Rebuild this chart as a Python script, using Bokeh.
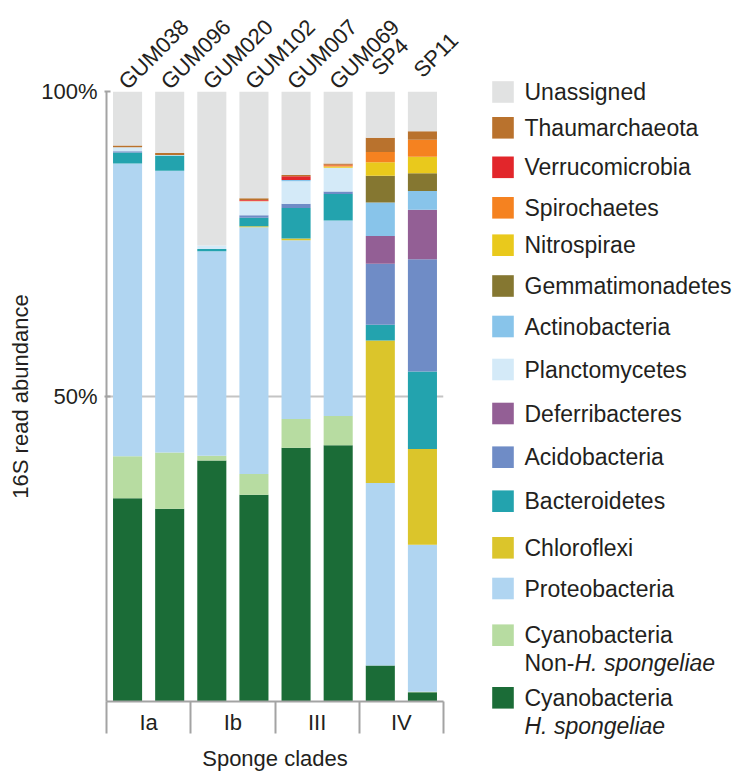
import math
from bokeh.plotting import figure
from bokeh.models import ColumnDataSource, Range1d, FixedTicker
from bokeh.embed import file_html
from bokeh.resources import INLINE
from bokeh.core.properties import value

# ---------------- data ----------------
samples = ["GUM038", "GUM096", "GUM020", "GUM102", "GUM007", "GUM069", "SP4", "SP11"]
clades = ["Ia", "Ib", "III", "IV"]
samples_per_clade = 2

cyano_h          = [33.3, 31.6, 39.5, 33.9, 41.6, 42.0, 5.9, 1.5]
cyano_non_h      = [6.9, 9.2, 0.8, 3.4, 4.7, 4.8, 0.0, 0.1]
proteobacteria   = [48.0, 46.2, 33.5, 40.45, 29.3, 32.05, 29.9, 24.1]
chloroflexi      = [0.0, 0.0, 0.0, 0.15, 0.3, 0.0, 23.4, 15.7]
bacteroidetes    = [1.8, 2.5, 0.4, 1.4, 5.0, 4.35, 2.55, 12.7]
acidobacteria    = [0.2, 0.0, 0.0, 0.4, 0.7, 0.4, 10.0, 18.4]
deferribacteres  = [0.0, 0.0, 0.0, 0.0, 0.0, 0.0, 4.55, 8.1]
planctomycetes   = [0.65, 0.1, 0.55, 2.3, 3.7, 3.9, 0.0, 0.0]
actinobacteria   = [0.0, 0.0, 0.0, 0.0, 0.2, 0.0, 5.5, 3.1]
gemmatimonadetes = [0.0, 0.0, 0.0, 0.0, 0.0, 0.0, 4.4, 2.9]
nitrospirae      = [0.0, 0.0, 0.0, 0.0, 0.0, 0.2, 2.2, 2.7]
spirochaetes     = [0.0, 0.0, 0.0, 0.1, 0.0, 0.2, 1.7, 2.8]
verrucomicrobia  = [0.0, 0.0, 0.0, 0.1, 0.6, 0.1, 0.0, 0.0]
thaumarchaeota   = [0.3, 0.3, 0.0, 0.3, 0.2, 0.2, 2.3, 1.4]
unassigned       = [8.85, 10.1, 25.25, 17.5, 13.7, 11.8, 7.6, 6.5]

y_ticks = [50, 100]
y_tick_labels = ["50%", "100%"]

# stack order bottom -> top
stack = [
    ("cyano_h", cyano_h, "#1b6c37"),
    ("cyano_non_h", cyano_non_h, "#b7dca1"),
    ("proteobacteria", proteobacteria, "#b0d5f1"),
    ("chloroflexi", chloroflexi, "#dbc52b"),
    ("bacteroidetes", bacteroidetes, "#23a3ae"),
    ("acidobacteria", acidobacteria, "#6f8cc6"),
    ("deferribacteres", deferribacteres, "#935f95"),
    ("planctomycetes", planctomycetes, "#d4eaf8"),
    ("actinobacteria", actinobacteria, "#88c4ea"),
    ("gemmatimonadetes", gemmatimonadetes, "#857731"),
    ("nitrospirae", nitrospirae, "#e9c91c"),
    ("spirochaetes", spirochaetes, "#f58220"),
    ("verrucomicrobia", verrucomicrobia, "#e2262b"),
    ("thaumarchaeota", thaumarchaeota, "#b9722d"),
    ("unassigned", unassigned, "#e1e2e2"),
]

# legend entries top -> bottom: (key, first line, upright prefix of 2nd line, italic part of 2nd line)
legend_entries = [
    ("unassigned", "Unassigned", "", ""),
    ("thaumarchaeota", "Thaumarchaeota", "", ""),
    ("verrucomicrobia", "Verrucomicrobia", "", ""),
    ("spirochaetes", "Spirochaetes", "", ""),
    ("nitrospirae", "Nitrospirae", "", ""),
    ("gemmatimonadetes", "Gemmatimonadetes", "", ""),
    ("actinobacteria", "Actinobacteria", "", ""),
    ("planctomycetes", "Planctomycetes", "", ""),
    ("deferribacteres", "Deferribacteres", "", ""),
    ("acidobacteria", "Acidobacteria", "", ""),
    ("bacteroidetes", "Bacteroidetes", "", ""),
    ("chloroflexi", "Chloroflexi", "", ""),
    ("proteobacteria", "Proteobacteria", "", ""),
    ("cyano_non_h", "Cyanobacteria", "Non-", "H. spongeliae"),
    ("cyano_h", "Cyanobacteria", "", "H. spongeliae"),
]

# ---------------- style / layout ----------------
FONT = "Liberation Sans"
TXT = "#231f20"
GREY = "#a3a3a3"
FS = "22px"
LFS = "23px"

W, H = 736, 775
LEFT, TOP, BOTTOM = 106, 91, 74     # frame borders (px)
BAR_PX = 42.125                     # px per sample slot
FRAME_RIGHT = LEFT + BAR_PX * len(samples)
RIGHT = W - FRAME_RIGHT

xs = [i + 0.5 for i in range(len(samples))]
colors = {k: c for k, _, c in stack}

src = ColumnDataSource(dict(x=xs, sample=samples, **{k: v for k, v, _ in stack}))

p = figure(width=W, height=H, x_range=Range1d(0, len(samples)), y_range=Range1d(0, 100),
           output_backend="svg", toolbar_location=None,
           min_border_left=LEFT, min_border_right=int(round(RIGHT)),
           min_border_top=TOP, min_border_bottom=BOTTOM)
p.outline_line_color = None
p.background_fill_color = "white"

# 50% gridline
p.xgrid.visible = False
p.ygrid.ticker = FixedTicker(ticks=[50])
p.ygrid.grid_line_color = "#c4c4c4"
p.ygrid.grid_line_width = 2

p.vbar_stack([k for k, _, _ in stack], x="x", width=0.69, color=[c for _, _, c in stack],
             line_color=None, source=src)

# sample labels above the bars (drawn unclipped)
lift = [0, 0, 0, 0, 0, 0, 14, 12]
lab_src = ColumnDataSource(dict(x=xs, y=[100] * len(samples), text=samples,
                                yoff=[-6 - l for l in lift]))
p.text(x="x", y="y", text="text", source=lab_src, angle=math.pi / 4,
       text_align="left", text_baseline="middle", x_offset=-5, y_offset="yoff",
       text_font=value(FONT), text_font_size=FS, text_color=TXT, level="overlay")

# y axis
ya = p.yaxis[0]
ya.ticker = FixedTicker(ticks=y_ticks)
ya.major_label_overrides = {t: l for t, l in zip(y_ticks, y_tick_labels)}
ya.axis_line_color = GREY
ya.axis_line_width = 2
ya.major_tick_line_color = GREY
ya.major_tick_line_width = 2
ya.major_tick_in = 4
ya.major_tick_out = 2
ya.minor_tick_line_color = None
ya.major_label_text_font = FONT
ya.major_label_text_font_size = FS
ya.major_label_text_color = TXT
ya.major_label_standoff = 7
ya.axis_label = "16S read abundance"
ya.axis_label_text_font = FONT
ya.axis_label_text_font_size = FS
ya.axis_label_text_font_style = "normal"
ya.axis_label_text_color = TXT
ya.axis_label_standoff = 5

# x axis: clade labels at group centres, separators as long minor ticks
centres = [samples_per_clade * k + samples_per_clade / 2 for k in range(len(clades))]
bounds = [samples_per_clade * k for k in range(len(clades) + 1)]
xa = p.xaxis[0]
xa.ticker = FixedTicker(ticks=centres, minor_ticks=bounds)
xa.major_label_overrides = {c: l for c, l in zip(centres, clades)}
xa.axis_line_color = GREY
xa.axis_line_width = 2
xa.major_tick_line_color = None
xa.major_tick_in = 0
xa.major_tick_out = 0
xa.minor_tick_line_color = GREY
xa.minor_tick_line_width = 2
xa.minor_tick_in = 0
xa.minor_tick_out = 32
xa.major_label_text_font = FONT
xa.major_label_text_font_size = FS
xa.major_label_text_color = TXT
xa.major_label_standoff = -24
xa.axis_label = "Sponge clades"
xa.axis_label_text_font = FONT
xa.axis_label_text_font_size = FS
xa.axis_label_text_font_style = "normal"
xa.axis_label_text_color = TXT
xa.axis_label_standoff = 8

# ---------------- legend (pixel-like extra ranges, drawn unclipped) ----------------
p.extra_x_ranges["lx"] = Range1d(LEFT, FRAME_RIGHT)
p.extra_y_ranges["ly"] = Range1d(H - BOTTOM, TOP)

leg_centres = [91.5, 127.3, 166.8, 207.3, 244.7, 285.5, 326, 369, 413, 456.7, 500.7, 547.3, 588, 634.7, 697.3]
SQ = 21.6
SQ_X = 502.5
TX = 524
LINE2 = 28
NON_W = 50

common = dict(x_range_name="lx", y_range_name="ly", level="overlay")
p.rect(x=[SQ_X] * len(legend_entries), y=leg_centres, width=SQ, height=SQ,
       color=[colors[e[0]] for e in legend_entries], line_color=None, **common)
p.text(x=[TX] * len(legend_entries), y=leg_centres, text=[e[1] for e in legend_entries],
       text_align="left", text_baseline="middle", text_font=value(FONT),
       text_font_size=LFS, text_color=TXT, **common)
pre = [(e, yc) for e, yc in zip(legend_entries, leg_centres) if e[2]]
p.text(x=[TX] * len(pre), y=[yc + LINE2 for _, yc in pre], text=[e[2] for e, _ in pre],
       text_align="left", text_baseline="middle", text_font=value(FONT),
       text_font_size=LFS, text_color=TXT, **common)
ital = [(e, yc) for e, yc in zip(legend_entries, leg_centres) if e[3]]
p.text(x=[TX + (NON_W if e[2] else 0) for e, _ in ital], y=[yc + LINE2 for _, yc in ital],
       text=[e[3] for e, _ in ital], text_align="left", text_baseline="middle",
       text_font=value(FONT), text_font_size=LFS, text_font_style="italic",
       text_color=TXT, **common)

open("out.html", "w").write(file_html(p, INLINE))
